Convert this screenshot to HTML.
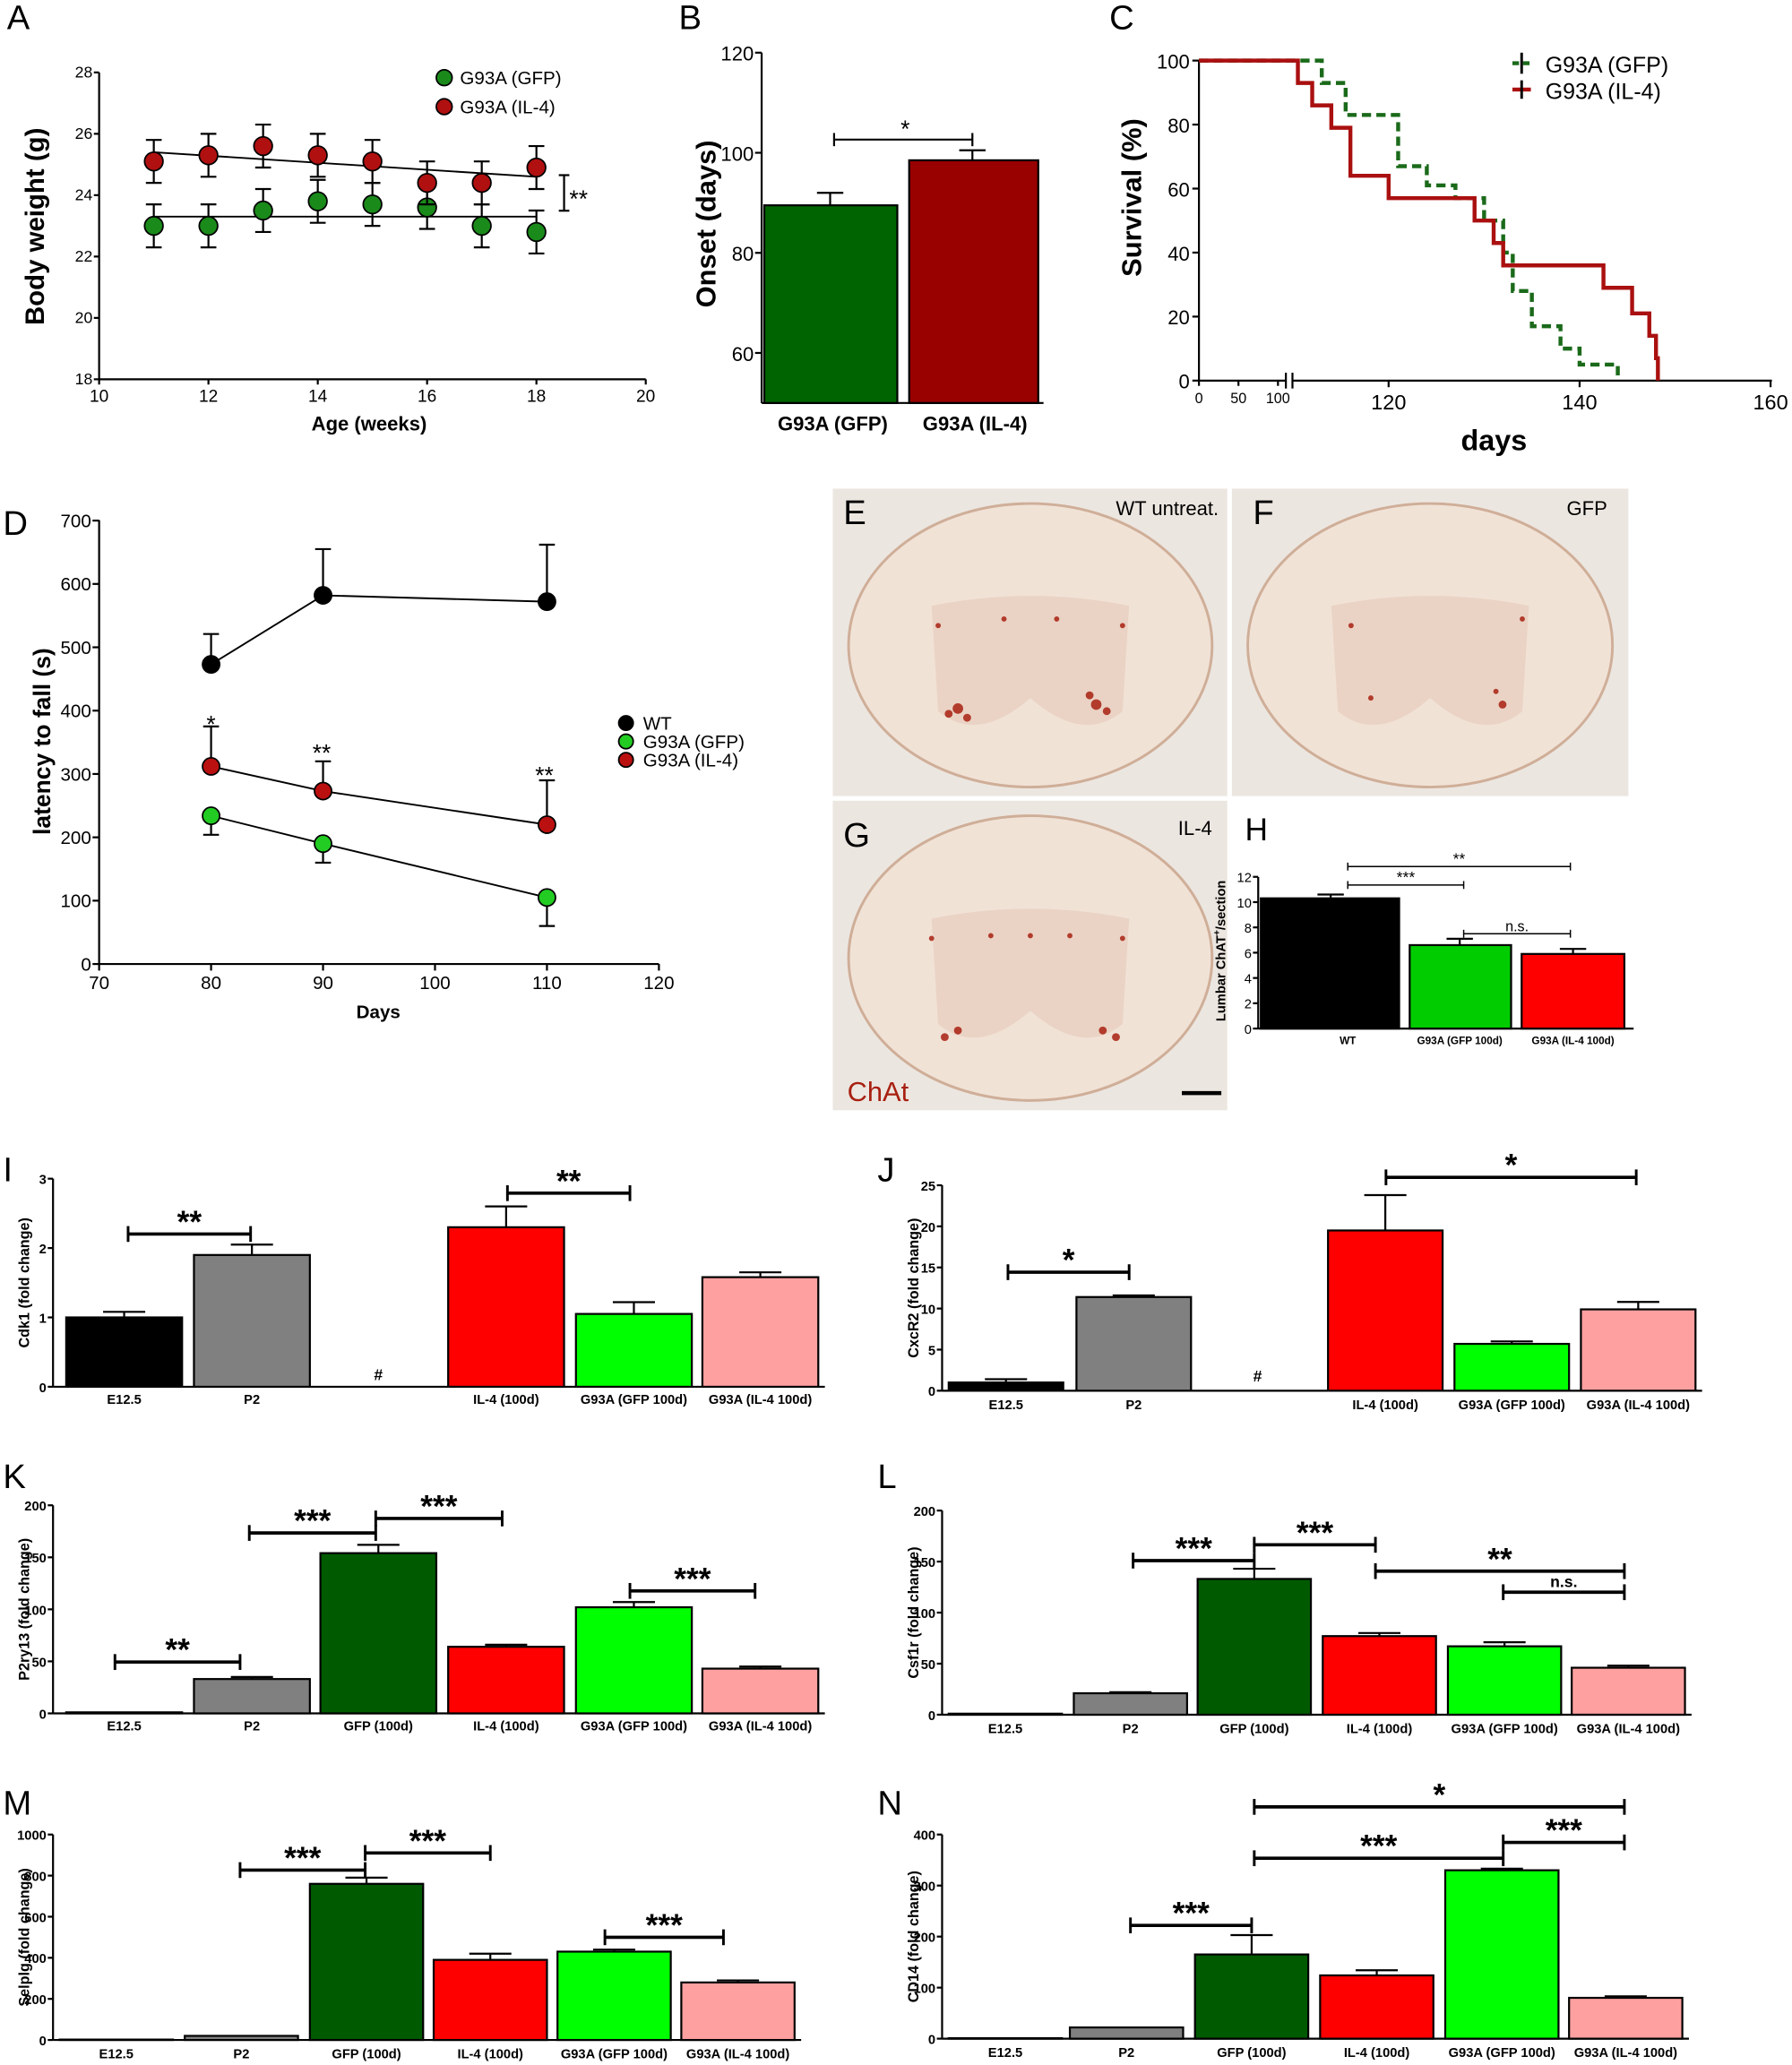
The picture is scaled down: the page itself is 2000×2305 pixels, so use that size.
<!DOCTYPE html>
<html><head><meta charset="utf-8"><style>
html,body{margin:0;padding:0;background:#fff;}
svg{display:block;font-family:"Liberation Sans",sans-serif;}
</style></head><body>
<svg id="s" xmlns="http://www.w3.org/2000/svg" width="2000" height="2305" viewBox="0 0 1360 1568"></svg>
<script>
const S=document.getElementById('s');let h='';
function L(x1,y1,x2,y2,c='#000',w=1.5,d=''){h+=`<line x1="${x1}" y1="${y1}" x2="${x2}" y2="${y2}" stroke="${c}" stroke-width="${w}" ${d?`stroke-dasharray="${d}"`:''}/>`;}
function T(x,y,t,sz=12,a='middle',wt='bold',extra='',fill='#000'){h+=`<text x="${x}" y="${y}" font-size="${sz}" text-anchor="${a}" font-weight="${wt}" fill="${fill}" ${extra}>${t}</text>`;}
function R(x,y,w,hh,f,s='#000',sw=1.5){h+=`<rect x="${x}" y="${y}" width="${w}" height="${hh}" fill="${f}" stroke="${s}" stroke-width="${sw}"/>`;}
function C(x,y,r,f){h+=`<circle cx="${x}" cy="${y}" r="${r}" fill="${f}" stroke="#000" stroke-width="1.2"/>`;}
function P(d,c,w=2.5,da=''){h+=`<path d="${d}" fill="none" stroke="${c}" stroke-width="${w}" ${da?`stroke-dasharray="${da}"`:''}/>`;}
[['A',5,22],['B',515,22],['C',842,22],['D',2,406],['I',2,897],['J',666,897],['K',2,1130],['L',666,1130],['M',2,1378],['N',666,1378]].forEach(a=>T(a[1],a[2],a[0],26,'start','normal'));
{const X=w=>75+(w-10)*41.5,Y=v=>288-(v-18)*23.3;
L(75,55,75,288);L(75,288,490,288);
for(let v=18;v<=28;v+=2){L(71,Y(v),75,Y(v));T(70,Y(v)+4,v,12,'end','normal');}
for(let w=10;w<=20;w+=2){L(X(w),288,X(w),292);T(X(w),305,w,13,'middle','normal');}
T(280,327,'Age (weeks)',15);T(33,172,'Body weight  (g)',20,'middle','bold','transform="rotate(-90 33 172)"');
const g=[23,23,23.5,23.8,23.7,23.6,23,22.8],r=[25.1,25.3,25.6,25.3,25.1,24.4,24.4,24.9];
L(X(11),Y(25.4),X(18),Y(24.6),'#000',1.3);L(X(11),Y(23.3),X(18),Y(23.3),'#000',1.3);
[[g,'#1a8a1a'],[r,'#b01010']].forEach(([a,c])=>a.forEach((v,i)=>{const x=X(11+i);L(x,Y(v-0.7),x,Y(v+0.7));L(x-6,Y(v+0.7),x+6,Y(v+0.7));L(x-6,Y(v-0.7),x+6,Y(v-0.7));C(x,Y(v),7,c);}));
C(337,59,6,'#1a8a1a');T(349,64,'G93A (GFP)',14,'start','normal');C(337,81,6,'#b01010');T(349,86,'G93A (IL-4)',14,'start','normal');
L(428,133,428,160);L(424,133,432,133);L(424,160,432,160);T(432,157,'**',18,'start','normal');}
{const Y=v=>40+(120-v)*3.8;L(578,40,578,306);L(578,306,792,306);
[60,80,100,120].forEach(v=>{L(573,Y(v),578,Y(v));T(572,Y(v)+6,v,15,'end','normal');});
R(580,Y(89.5),101,306-Y(89.5),'#006400');R(690,Y(98.5),98,306-Y(98.5),'#990000');
L(630,Y(89.5),630,Y(92));L(620,Y(92),640,Y(92));L(738,Y(98.5),738,Y(100.5));L(728,Y(100.5),748,Y(100.5));
L(633,106,738,106);L(633,101,633,111);L(738,101,738,111);T(687,104,'*',18,'middle','normal');
T(632,327,'G93A (GFP)',15);T(740,327,'G93A (IL-4)',15);T(543,170,'Onset (days)',21,'middle','bold','transform="rotate(-90 543 170)"');}
{const Y=v=>289-v*2.43,X=d=>1054+(d-120)*7.25;
L(910,46,910,289);L(910,289,976,289);L(981,289,1345,289);L(976,283,976,295);L(981,283,981,295);
for(let v=0;v<=100;v+=20){L(905,Y(v),910,Y(v));T(903,Y(v)+6,v,15,'end','normal');}
[[910,'0'],[940,'50'],[970,'100']].forEach(a=>{L(a[0],289,a[0],293);T(a[0],306,a[1],11,'middle','normal');});
[120,140,160].forEach(v=>{L(X(v),289,X(v),294);T(X(v),311,v,16,'middle','normal');});
T(1134,342,'days',22);T(866,150,'Survival (%)',21,'middle','bold','transform="rotate(-90 866 150)"');
function st(pts){let d=`M910 ${Y(100)} L${X(pts[0][0])} ${Y(100)}`;let prev=100;pts.forEach(([t,v])=>{d+=` L${X(t)} ${Y(prev)} L${X(t)} ${Y(v)}`;prev=v;});return d;}
P(st([[113,93],[115.5,83],[121,67],[124,61],[127,57],[130,50],[132,40],[133,28],[135,17],[138,10],[140,5],[144,0]]),'#1a6a1a',3,'7 4');
P(st([[110.5,93],[112,86],[114,79],[116,64],[120,57],[129,50],[131,43],[132,36],[142.5,29],[145.5,21],[147.3,14],[148,7],[148.2,0]]),'#aa1010',3);
P('M1148 48 L1162 48','#1a6a1a',3,'5 3');L(1155,40,1155,56,'#000',2);T(1173,55,'G93A (GFP)',17,'start','normal');
P('M1148 68 L1162 68','#aa1010',3);L(1155,61,1155,75,'#000',2);T(1173,75,'G93A (IL-4)',17,'start','normal');}
{const X=d=>75+(d-70)*8.5,Y=v=>732-v*0.481;L(75,395,75,732);L(75,732,500,732);
for(let v=0;v<=700;v+=100){L(70,Y(v),75,Y(v));T(69,Y(v)+5,v,14,'end','normal');}
for(let d=70;d<=120;d+=10){L(X(d),732,X(d),737);T(X(d),751,d,14,'middle','normal');}
T(287,773,'Days',14);T(38,563,'latency to fall (s)',18,'middle','bold','transform="rotate(-90 38 563)"');
const ds=[80,90,110];
const sets=[[[473,582,572],[521,655,662],'#000'],[[312,273,220],[375,320,290],'#bb1010'],[[234,190,105],[204,160,60],'#22cc22']];
sets.forEach(([v,e,c])=>{P('M'+ds.map((d,i)=>`${X(d)} ${Y(v[i])}`).join(' L'),'#000',1.3);ds.forEach((d,i)=>{L(X(d),Y(v[i]),X(d),Y(e[i]));L(X(d)-6,Y(e[i]),X(d)+6,Y(e[i]));C(X(d),Y(v[i]),6.5,c);});});
T(160,556,'*',18,'middle','normal');T(244,578,'**',18,'middle','normal');T(413,595,'**',18,'middle','normal');
C(475,549,5.5,'#000');C(475,563,5.5,'#22cc22');C(475,577,5.5,'#bb1010');
T(488,554,'WT',14,'start','normal');T(488,568,'G93A (GFP)',14,'start','normal');T(488,582,'G93A (IL-4)',14,'start','normal');}
function img(x,y,w,hh,dots){h+=`<rect x="${x}" y="${y}" width="${w}" height="${hh}" fill="#ece6e0"/>`;
const cx=x+w/2,cy=y+hh/2+2;h+=`<ellipse cx="${cx}" cy="${cy}" rx="${w*0.46}" ry="${hh*0.46}" fill="#f1e2d6" stroke="#cfae98" stroke-width="2"/>`;
h+=`<path d="M${cx-75} ${cy-30} Q${cx} ${cy-45} ${cx+75} ${cy-30} L${cx+70} ${cy+50} Q${cx+40} ${cy+75} ${cx} ${cy+40} Q${cx-40} ${cy+75} ${cx-70} ${cy+50} Z" fill="#e8d0c0" opacity="0.8"/>`;
dots.forEach(([dx,dy,r])=>h+=`<circle cx="${cx+dx}" cy="${cy+dy}" r="${r}" fill="#a82010" opacity="0.85"/>`);}
img(632,371,300,234,[[-55,48,4],[-48,55,3],[-62,52,3],[50,45,4],[45,38,3],[58,50,3],[-20,-20,2],[20,-20,2],[70,-15,2],[-70,-15,2]]);
img(935,371,301,234,[[-45,40,2],[55,45,3],[50,35,2],[-60,-15,2],[70,-20,2]]);
img(632,608,300,235,[[-65,60,3],[-55,55,3],[55,55,3],[65,60,3],[-75,-15,2],[0,-17,2],[70,-15,2],[-30,-17,2],[30,-17,2]]);
L(632,606,1236,606,'#fff',3);L(933,371,933,843,'#fff',3);
T(640,398,'E',26,'start','normal');T(925,391,'WT untreat.',15,'end','normal');
T(951,398,'F',26,'start','normal');T(1220,391,'GFP',15,'end','normal');
T(640,643,'G',26,'start','normal');T(920,634,'IL-4',15,'end','normal');T(643,836,'ChAt',21,'start','normal','','#a82010');L(897,830,927,830,'#000',3);
{const Y=v=>781-v*9.6;T(945,638,'H',24,'start','normal');L(955,666,955,781);L(955,781,1240,781);
for(let v=0;v<=12;v+=2){L(951,Y(v),955,Y(v));T(950,Y(v)+4,v,10,'end','normal');}
R(957,Y(10.3),105,781-Y(10.3),'#000');R(1070,Y(6.6),77,781-Y(6.6),'#00cc00');R(1155,Y(5.9),78,781-Y(5.9),'#ff0000');
[[1010,10.3,10.6],[1108,6.6,7.1],[1194,5.9,6.3]].forEach(([x,a,b])=>{L(x,Y(a),x,Y(b));L(x-10,Y(b),x+10,Y(b));});
[[1023,1192,658,'**'],[1023,1111,672,'***'],[1111,1192,709,'n.s.']].forEach(([a,b,y,t])=>{L(a,y,b,y,'#000',1);L(a,y-3,a,y+3,'#000',1);L(b,y-3,b,y+3,'#000',1);T((a+b)/2,y-2,t,t=='n.s.'?11:12,'middle','normal');});
T(1023,793,'WT',8);T(1108,793,'G93A (GFP 100d)',8);T(1194,793,'G93A (IL-4 100d)',8);
T(930,722,'Lumbar ChAT<tspan font-size="7" dy="-4">+</tspan><tspan dy="4">/section</tspan>',10,'middle','bold','transform="rotate(-90 930 722)"');}
const labs=['E12.5','P2','GFP (100d)','IL-4 (100d)','G93A (GFP 100d)','G93A (IL-4 100d)'];
function bars(o){const{ax,top,bot,max,ticks,xs,bw,vals,errs,cols,sig,ylab,hash,ly}=o;const Y=v=>bot-(bot-top)*v/max;
L(ax,top,ax,bot);L(ax,bot,xs[5]+bw+5,bot);
ticks.forEach(v=>{L(ax-4,Y(v),ax,Y(v));T(ax-5,Y(v)+4,v,10,'end','bold');});
xs.forEach((x,i)=>{if(vals[i]==null){T(x+bw/2,hash,'#',12,'middle','bold');return;}
if(errs[i]!=null){L(x+bw/2,Y(vals[i]),x+bw/2,Y(errs[i]));L(x+bw/2-16,Y(errs[i]),x+bw/2+16,Y(errs[i]));}
R(x,Y(vals[i]),bw,bot-Y(vals[i]),cols[i]);T(x+bw/2,ly,labs[i],10,'middle','bold');});
sig.forEach(([a,b,y,t])=>{L(a,y,b,y,'#000',2.5);L(a,y-6,a,y+6,'#000',2);L(b,y-6,b,y+6,'#000',2);T((a+b)/2,y-(t=='n.s.'?4:1),t,t=='n.s.'?12:24,'middle','bold');});
T(ax-18,(top+bot)/2,ylab,11,'middle','bold','transform="rotate(-90 '+(ax-18)+' '+((top+bot)/2)+')"');}
const XL=[50,147,243,340,437,533],XR=[720,817,911,1008,1104,1200];
const c1=['#000','#808080',null,'#ff0000','#00ff00','#ffa0a0'],c2=['#000','#808080','#005a00','#ff0000','#00ff00','#ffa0a0'];
bars({ax:40,top:895,bot:1053,max:3,ticks:[0,1,2,3],xs:XL,bw:88,vals:[1,1.9,null,2.3,1.05,1.58],errs:[1.08,2.05,null,2.6,1.22,1.65],cols:c1,sig:[[97,190,937,'**'],[385,478,906,'**']],ylab:'Cdk1 (fold change)',hash:1048,ly:1066});
bars({ax:715,top:900,bot:1056,max:25,ticks:[0,5,10,15,20,25],xs:XR,bw:87,vals:[1,11.4,null,19.5,5.7,9.9],errs:[1.4,11.6,null,23.8,6,10.8],cols:c1,sig:[[765,857,966,'*'],[1052,1242,894,'*']],ylab:'CxcR2 (fold change)',hash:1049,ly:1070});
bars({ax:40,top:1143,bot:1301,max:200,ticks:[0,50,100,150,200],xs:XL,bw:88,vals:[1,33,154,64,102,43],errs:[null,35,162,66,107,45],cols:c2,sig:[[87,182,1262,'**'],[189,285,1164,'***'],[285,381,1153,'***'],[478,573,1208,'***']],ylab:'P2ry13 (fold change)',ly:1314});
bars({ax:715,top:1147,bot:1302,max:200,ticks:[0,50,100,150,200],xs:[720,815,909,1004,1099,1193],bw:86,vals:[1,21,133,77,67,46],errs:[null,22,143,80,71,48],cols:c2,sig:[[860,952,1185,'***'],[952,1044,1173,'***'],[1044,1233,1193,'**'],[1141,1233,1209,'n.s.']],ylab:'Csf1r (fold change)',ly:1316});
bars({ax:40,top:1393,bot:1549,max:1000,ticks:[0,200,400,600,800,1000],xs:[45,140,235,329,423,517],bw:86,vals:[2,20,760,390,430,280],errs:[null,null,790,420,440,290],cols:c2,sig:[[182,277,1420,'***'],[277,372,1407,'***'],[459,549,1471,'***']],ylab:'Selplg (fold change)',ly:1563});
bars({ax:715,top:1393,bot:1548,max:400,ticks:[0,100,200,300,400],xs:[720,812,907,1002,1097,1191],bw:86,vals:[1,22,165,124,330,80],errs:[null,null,203,134,333,83],cols:c2,sig:[[858,950,1462,'***'],[952,1141,1411,'***'],[1141,1233,1399,'***'],[952,1233,1372,'*']],ylab:'CD14 (fold change)',ly:1562});
S.innerHTML=h;
</script>
</body></html>
